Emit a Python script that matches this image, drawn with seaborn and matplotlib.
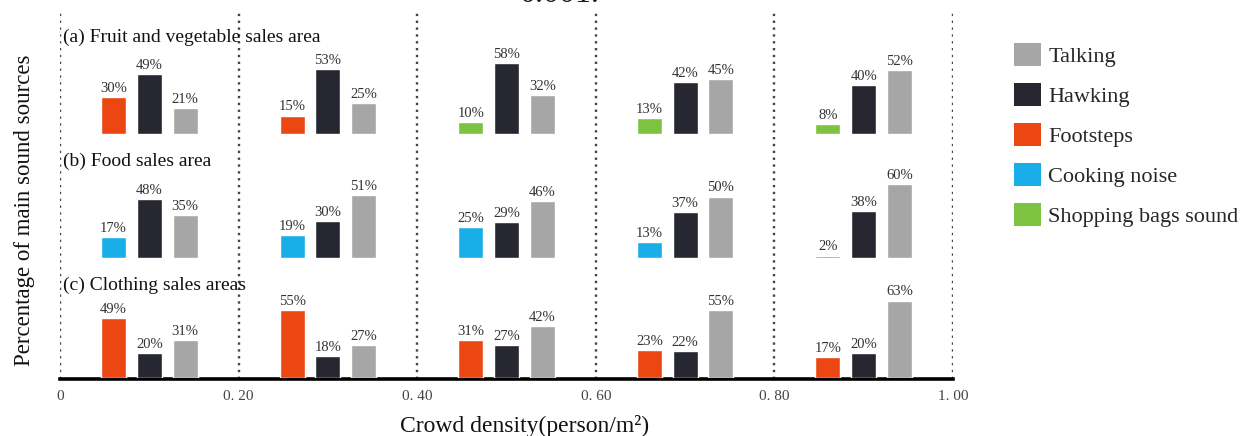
import numpy as np
import pandas as pd
import matplotlib
matplotlib.use("Agg")
import matplotlib.pyplot as plt
from matplotlib.patches import Patch
import seaborn as sns

# ---- data -------------------------------------------------------------
density_centers = [0.10, 0.30, 0.50, 0.70, 0.90]
tick_values = [0.0, 0.2, 0.4, 0.6, 0.8, 1.0]
tick_labels = ["0", "0. 20", "0. 40", "0. 60", "0. 80", "1. 00"]

area_titles = [
    "(a) Fruit and vegetable sales area",
    "(b) Food sales area",
    "(c) Clothing sales areas",
]

fruit_first_source = ["Footsteps", "Footsteps", "Shopping bags sound",
                      "Shopping bags sound", "Shopping bags sound"]
fruit_first = [30, 15, 10, 13, 8]
fruit_hawking = [49, 53, 58, 42, 40]
fruit_talking = [21, 25, 32, 45, 52]

food_first_source = ["Cooking noise"] * 5
food_first = [17, 19, 25, 13, 2]
food_hawking = [48, 30, 29, 37, 38]
food_talking = [35, 51, 46, 50, 60]

cloth_first_source = ["Footsteps"] * 5
cloth_first = [49, 55, 31, 23, 17]
cloth_hawking = [20, 18, 27, 22, 20]
cloth_talking = [31, 27, 42, 55, 63]

legend_order = ["Talking", "Hawking", "Footsteps", "Cooking noise",
                "Shopping bags sound"]
palette = {
    "Talking": "#a6a6a6",
    "Hawking": "#272731",
    "Footsteps": "#ec4612",
    "Cooking noise": "#1aaee8",
    "Shopping bags sound": "#7ec242",
}


def area_frame(first_src, first, hawking, talking):
    rows = []
    offsets = [-0.04, 0.0, 0.04]
    for i, c in enumerate(density_centers):
        for off, src, val in zip(offsets,
                                 [first_src[i], "Hawking", "Talking"],
                                 [first[i], hawking[i], talking[i]]):
            rows.append({"pos": round(c + off, 3), "source": src, "pct": val})
    return pd.DataFrame(rows)


areas = [
    area_frame(fruit_first_source, fruit_first, fruit_hawking, fruit_talking),
    area_frame(food_first_source, food_first, food_hawking, food_talking),
    area_frame(cloth_first_source, cloth_first, cloth_hawking, cloth_talking),
]

# ---- style ------------------------------------------------------------
sns.set_style("white")
plt.rcParams["font.family"] = ["Liberation Serif", "DejaVu Serif"]

W, H = 1241, 436
fig = plt.figure(figsize=(W / 100, H / 100), dpi=100)


def fx(px):
    return px / W


def fy(px):
    return 1 - px / H


x_left, x_right = 60, 953
px_per_pct = 1.23

# background axis: dotted separators and the density axis
bg_top, bg_bottom = 10, 379
ax_bg = fig.add_axes([fx(x_left), fy(bg_bottom), fx(x_right - x_left),
                      (bg_bottom - bg_top) / H])
ax_bg.set_xlim(0, 1)
ax_bg.set_ylim(0, 1)
for v in tick_values:
    ax_bg.axvline(v, color="#444444", lw=1.7, ls=(0, (1, 1.9)), zorder=0)
for s in ["top", "left", "right"]:
    ax_bg.spines[s].set_visible(False)
ax_bg.spines["bottom"].set_linewidth(2.6)
ax_bg.spines["bottom"].set_color("black")
ax_bg.set_yticks([])
ax_bg.set_xticks(tick_values)
ax_bg.set_xticklabels(tick_labels)
ax_bg.tick_params(axis="x", direction="out", length=5, width=2.6,
                  color="black", labelsize=11, labelcolor="#444444", pad=3)
ax_bg.patch.set_alpha(0)

# three area panels stacked over the background axis
row_bounds = [(10, 134), (134, 258), (258, 378)]
for area_df, title, (top, bottom) in zip(areas, area_titles, row_bounds):
    ax = fig.add_axes([fx(x_left), fy(bottom), fx(x_right - x_left),
                       (bottom - top) / H])
    sns.barplot(data=area_df, x="pos", y="pct", hue="source",
                palette=palette, native_scale=True, dodge=False,
                width=0.7, errorbar=None, saturation=1, legend=False, ax=ax)
    ax.set_xlim(0, 1)
    ax.set_ylim(0, (bottom - top) / px_per_pct)
    ax.axis("off")
    for _, r in area_df.iterrows():
        ax.annotate(f"{r['pct']}%", (r["pos"], r["pct"]), xytext=(0, 1.5),
                    textcoords="offset points", ha="center", va="bottom",
                    fontsize=10.5, color="#333333")
    ax.annotate(title, xy=(0, 1), xycoords="axes fraction",
                xytext=(2.5, -27.5 / 1.389), textcoords="offset points",
                ha="left", va="center", fontsize=14, color="#111111")

# legend
handles = [Patch(facecolor=palette[k], edgecolor="none") for k in legend_order]
fig.legend(handles, legend_order, loc="upper left",
           bbox_to_anchor=(fx(1014), fy(43)), frameon=False, fontsize=16,
           handlelength=1.22, handleheight=1.22, handletextpad=0.32,
           labelspacing=0.72, borderpad=0, borderaxespad=0)

fig.text(fx(25), fy(210), "Percentage of main sound sources", rotation=90,
         ha="center", va="center", fontsize=16.5, color="#111111")
fig.text(fx(525), fy(426), "Crowd density(person/m²)", ha="center",
         va="center", fontsize=17, color="#111111")
# caption line running in from above the figure, only its lower edge shows
fig.text(fx(560), fy(2), "0.001.", ha="center", va="baseline",
         fontsize=23, color="#1a1a1a")

fig.savefig("out.png", dpi=100)
